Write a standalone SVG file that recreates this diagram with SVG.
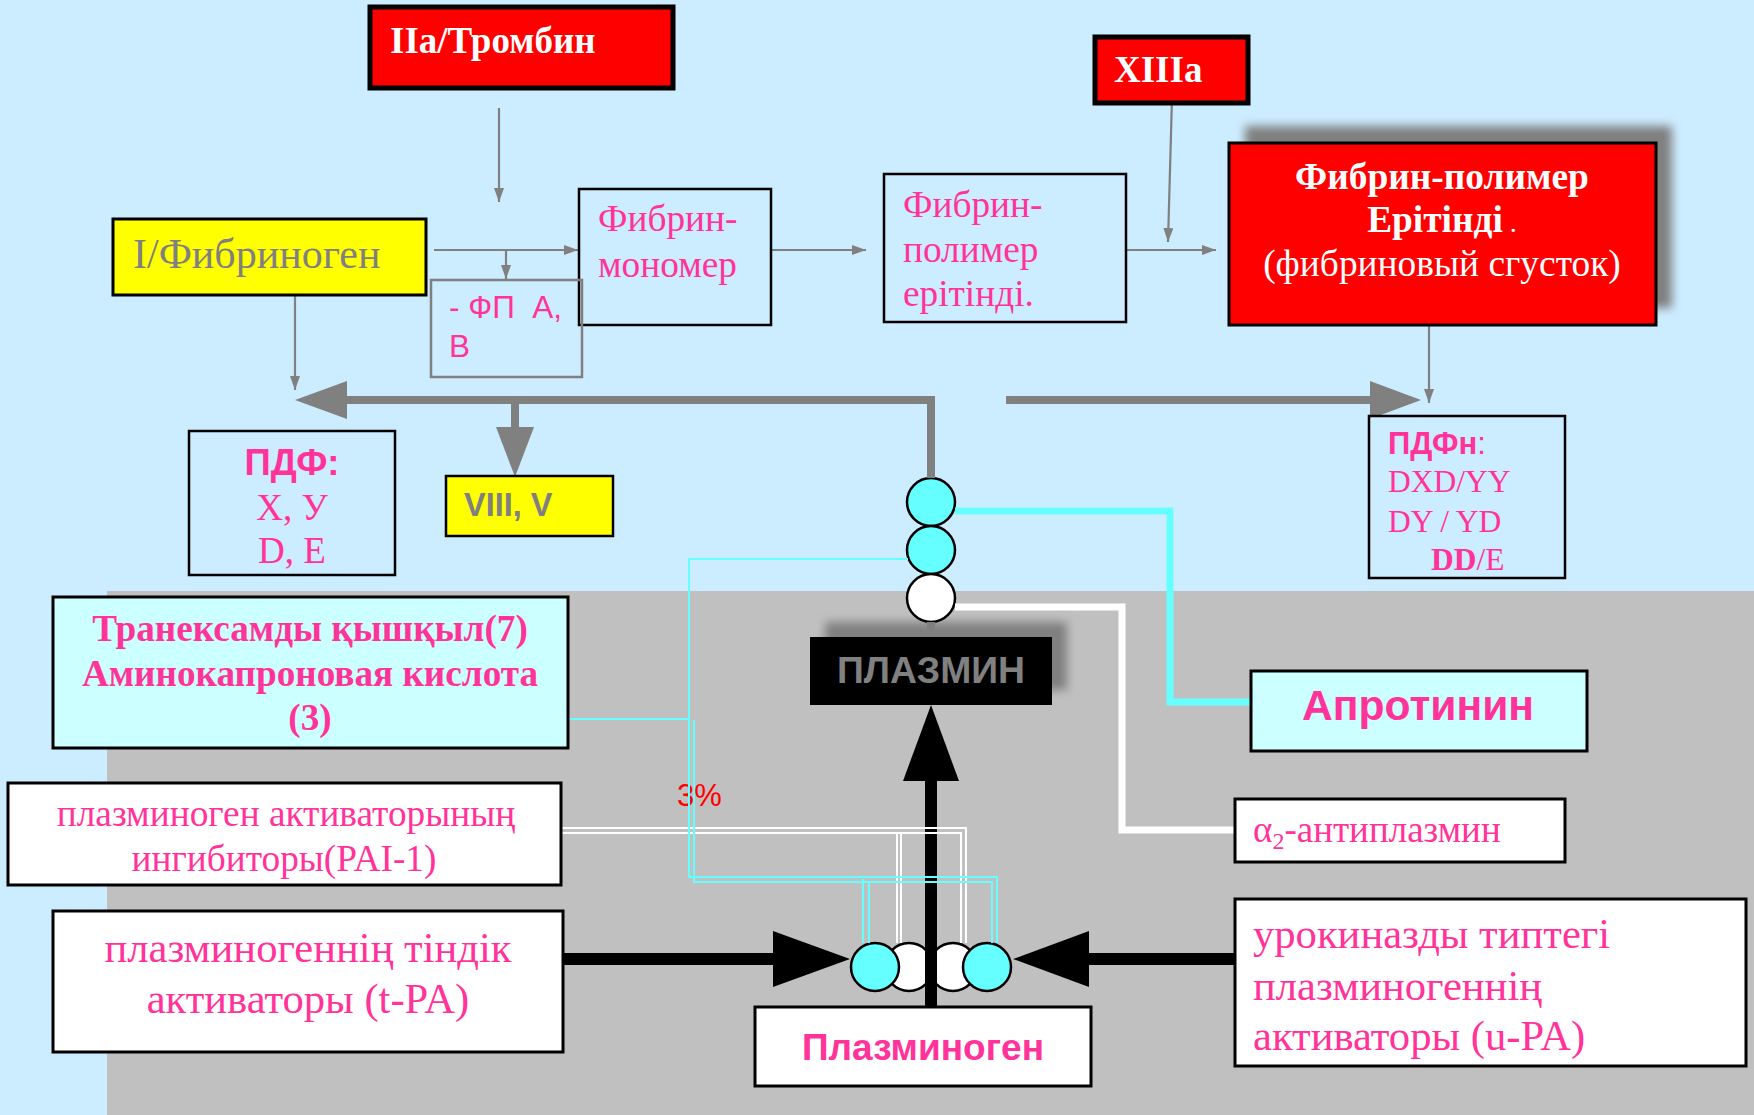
<svg xmlns="http://www.w3.org/2000/svg" width="1754" height="1115" viewBox="0 0 1754 1115">
<style>
.serif{font-family:"Liberation Serif","Times New Roman",serif;}
.sans{font-family:"Liberation Sans",Arial,sans-serif;}
.pink{fill:#FF3399;}
.box{stroke:#000;stroke-width:3;}
.thin{fill:none;stroke:#808080;stroke-width:2.2;}
.big{fill:none;stroke:#808080;stroke-width:8;}
.cy{fill:none;stroke:#66FFFF;stroke-width:2;}
.wh{fill:none;stroke:#FFFFFF;stroke-width:2;}
.circ{stroke:#000;stroke-width:2.5;}
</style>
<defs>
<marker id="ah" markerUnits="userSpaceOnUse" markerWidth="14" markerHeight="10" refX="14" refY="5" orient="auto">
<path d="M0,0 L14,5 L0,10 z" fill="#808080"/>
</marker>
<filter id="blur" x="-20%" y="-50%" width="140%" height="200%">
<feGaussianBlur stdDeviation="5"/>
</filter>
</defs>
<rect x="0" y="0" width="1754" height="1115" fill="#CCECFF"/>
<rect x="107" y="591" width="1647" height="524" fill="#C0C0C0"/>
<rect x="1245" y="126" width="427" height="182" fill="#808080" filter="url(#blur)"/>
<rect x="825" y="622" width="242" height="68" fill="#808080" filter="url(#blur)"/>

<g id="circles-top">
<circle cx="931" cy="502" r="24" fill="#66FFFF" class="circ"/>
<circle cx="931" cy="550" r="24" fill="#66FFFF" class="circ"/>
<circle cx="931" cy="598" r="24" fill="#FFFFFF" class="circ"/>
</g>
<g id="circles-bottom">
<circle cx="909" cy="967" r="24" fill="#FFFFFF" class="circ"/>
<circle cx="953" cy="967" r="24" fill="#FFFFFF" class="circ"/>
<circle cx="875" cy="967" r="24" fill="#66FFFF" class="circ"/>
<circle cx="987" cy="967" r="24" fill="#66FFFF" class="circ"/>
</g>

<text x="677" y="806" class="sans" font-size="31" fill="#FF0000">3%</text>

<g id="connectors">
<path class="thin" d="M499,108 V202" marker-end="url(#ah)"/>
<path class="thin" d="M434,250 H578" marker-end="url(#ah)"/>
<path class="thin" d="M506,250 V279" marker-end="url(#ah)"/>
<path class="thin" d="M295,295 V390" marker-end="url(#ah)"/>
<path class="thin" d="M771,250 H866" marker-end="url(#ah)"/>
<path class="thin" d="M1121,250 H1216" marker-end="url(#ah)"/>
<path class="thin" d="M1172,98 L1168,242" marker-end="url(#ah)"/>
<path class="thin" d="M1429,326 V403" marker-end="url(#ah)"/>
<path class="big" d="M931,478 V400 H345"/>
<polygon points="295,400 347,381 347,419" fill="#808080"/>
<path class="big" d="M515,400 V430"/>
<polygon points="496,427 534,427 515,477" fill="#808080"/>
<path class="big" d="M1006,400 H1372"/>
<polygon points="1421,400 1370,381 1370,419" fill="#808080"/>
<path class="big" d="M931,622 V637"/>
<path d="M955,511 H1170 V702 H1251" fill="none" stroke="#66FFFF" stroke-width="7"/>
<path d="M955,607 H1122 V830 H1235" fill="none" stroke="#FFFFFF" stroke-width="7"/>
<path d="M931,1007 V778" stroke="#000" stroke-width="12"/>
<polygon points="931,705 903,781 959,781" fill="#000"/>
<path d="M563,959 H776" stroke="#000" stroke-width="12"/>
<polygon points="850,959 773,931 773,987" fill="#000"/>
<path d="M1235,959 H1086" stroke="#000" stroke-width="12"/>
<polygon points="1013,959 1089,931 1089,987" fill="#000"/>
<path class="wh" d="M562,828 H966 V943"/>
<path class="wh" d="M562,833 H961 V943"/>
<path class="wh" d="M897,833 V943"/>
<path class="wh" d="M901,833 V943"/>
<path class="cy" d="M908,559 H689 V877 H997 V943"/>
<path class="cy" d="M566,719 H689"/>
<path class="cy" d="M694,720 V882 H992 V943"/>
<path class="cy" d="M863,879 V943"/>
<path class="cy" d="M869,882 V943"/>
</g>

<g id="thrombin">
<rect x="370" y="7" width="303" height="81" fill="#FF0000" stroke="#000" stroke-width="5"/>
<text x="390" y="53" class="serif" font-size="37" font-weight="bold" fill="#FFFFFF">IIa/Тромбин</text>
</g>
<g id="xiiia">
<rect x="1095" y="37" width="153" height="66" fill="#FF0000" stroke="#000" stroke-width="5"/>
<text x="1114" y="82" class="serif" font-size="37" font-weight="bold" fill="#FFFFFF">XIIIa</text>
</g>
<g id="fibrinogen">
<rect x="113" y="219" width="313" height="76" fill="#FFFF00" class="box"/>
<text x="133" y="268" class="serif" font-size="42" fill="#808080">I/Фибриноген</text>
</g>
<g id="fibrin-monomer">
<rect x="579" y="189" width="192" height="136" fill="#CCECFF" stroke="#000" stroke-width="2.5"/>
<text class="serif pink" font-size="37.3"><tspan x="598" y="231">Фибрин-</tspan><tspan x="598" y="277">мономер</tspan></text>
</g>
<g id="fpab">
<rect x="431" y="280" width="151" height="97" fill="none" stroke="#808080" stroke-width="2.5"/>
<text class="sans pink" font-size="31.5" xml:space="preserve"><tspan x="449" y="318">- ФП  А,</tspan><tspan x="449" y="357">В</tspan></text>
</g>
<g id="fibrin-polymer-solution">
<rect x="884" y="174" width="242" height="148" fill="#CCECFF" stroke="#000" stroke-width="2.5"/>
<text class="serif pink" font-size="37.3"><tspan x="903" y="217">Фибрин-</tspan><tspan x="903" y="262">полимер</tspan><tspan x="903" y="306">ерітінді.</tspan></text>
</g>
<g id="fibrin-clot">
<rect x="1229" y="143" width="427" height="182" fill="#FF0000" class="box"/>
<text x="1442" y="189" class="serif" font-size="37.4" font-weight="bold" fill="#FFFFFF" text-anchor="middle">Фибрин-полимер</text>
<text x="1442" y="232" class="serif" font-size="37.4" fill="#FFFFFF" text-anchor="middle"><tspan font-weight="bold">Ерітінді</tspan><tspan font-size="28"> .</tspan></text>
<text x="1442" y="276" class="serif" font-size="37.4" fill="#FFFFFF" text-anchor="middle">(фибриновый сгусток)</text>
</g>
<g id="pdf">
<rect x="189" y="431" width="206" height="144" fill="#CCECFF" stroke="#000" stroke-width="2.5"/>
<text x="292" y="475" class="sans pink" font-size="36.5" font-weight="bold" text-anchor="middle">ПДФ:</text>
<text x="292" y="520" class="serif pink" font-size="37" text-anchor="middle">X, У</text>
<text x="292" y="563" class="serif pink" font-size="37" text-anchor="middle">D, E</text>
</g>
<g id="viii-v">
<rect x="446" y="476" width="167" height="60" fill="#FFFF00" stroke="#000" stroke-width="2.5"/>
<text x="464" y="516" class="sans" font-size="32.5" font-weight="bold" fill="#808080">VIII, V</text>
</g>
<g id="pdfn">
<rect x="1369" y="416" width="196" height="162" fill="#CCECFF" stroke="#000" stroke-width="2.5"/>
<text x="1388" y="454" class="sans pink" font-size="31"><tspan font-weight="bold">ПДФн</tspan>:</text>
<text x="1388" y="492" class="serif pink" font-size="31.5">DXD/YY</text>
<text x="1388" y="532" class="serif pink" font-size="31.5">DY / YD</text>
<text x="1431" y="570" class="serif pink" font-size="31.5"><tspan font-weight="bold">DD</tspan>/E</text>
</g>
<g id="tranexamic">
<rect x="53" y="597" width="515" height="151" fill="#CCFFFF" class="box"/>
<text class="serif pink" font-size="37.2" font-weight="bold" text-anchor="middle"><tspan x="310" y="641">Транексамды қышқыл(7)</tspan><tspan x="310" y="686">Аминокапроновая кислота</tspan><tspan x="310" y="730">(3)</tspan></text>
</g>
<g id="pai1">
<rect x="8" y="783" width="553" height="102" fill="#FFFFFF" class="box"/>
<text class="serif pink" font-size="37.3" text-anchor="middle"><tspan x="286" y="826">плазминоген активаторының</tspan><tspan x="284" y="871">ингибиторы(PAI-1)</tspan></text>
</g>
<g id="tpa">
<rect x="53" y="911" width="510" height="141" fill="#FFFFFF" class="box"/>
<text class="serif pink" font-size="42.6" text-anchor="middle"><tspan x="308" y="962">плазминогеннің тіндік</tspan><tspan x="308" y="1013">активаторы (t-PA)</tspan></text>
</g>
<g id="plasminogen">
<rect x="755" y="1007" width="336" height="79" fill="#FFFFFF" class="box"/>
<text x="923" y="1060" class="sans pink" font-size="37" font-weight="bold" text-anchor="middle">Плазминоген</text>
</g>
<g id="plasmin">
<rect x="810" y="637" width="242" height="68" fill="#000000"/>
<text x="931" y="683" class="sans" font-size="37.3" font-weight="bold" fill="#808080" text-anchor="middle">ПЛАЗМИН</text>
</g>
<g id="aprotinin">
<rect x="1251" y="671" width="336" height="80" fill="#CCFFFF" class="box"/>
<text x="1418" y="720" class="sans pink" font-size="42.6" font-weight="bold" text-anchor="middle">Апротинин</text>
</g>
<g id="antiplasmin">
<rect x="1235" y="799" width="330" height="63" fill="#FFFFFF" class="box"/>
<text x="1253" y="842" class="serif pink" font-size="37">α<tspan font-size="24" dy="7">2</tspan><tspan dy="-7">-антиплазмин</tspan></text>
</g>
<g id="upa">
<rect x="1235" y="899" width="511" height="167" fill="#FFFFFF" class="box"/>
<text class="serif pink" font-size="42.6"><tspan x="1253" y="948">урокиназды типтегі</tspan><tspan x="1253" y="1000">плазминогеннің</tspan><tspan x="1253" y="1050">активаторы (u-PA)</tspan></text>
</g>
</svg>
